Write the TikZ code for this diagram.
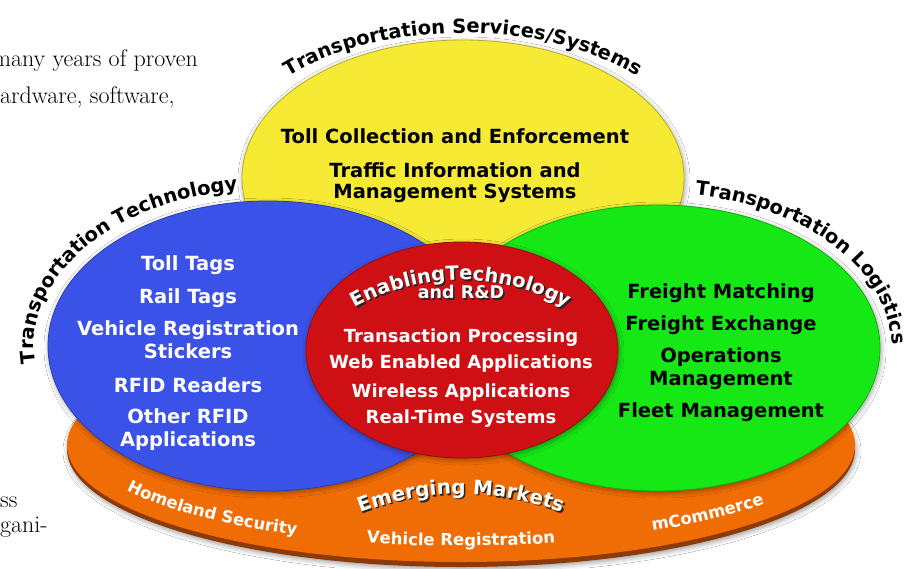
\documentclass[tikz,border=0pt]{standalone}
\usepackage{fontspec}
\setsansfont{DejaVu Sans}
\usetikzlibrary{decorations.text,shadows.blur}
\definecolor{tsYellow}{RGB}{246,234,52}
\definecolor{ttBlue}{RGB}{58,82,232}
\definecolor{tlGreen}{RGB}{22,232,22}
\definecolor{etRed}{RGB}{206,16,20}
\definecolor{emOrange}{RGB}{240,108,4}
\definecolor{emRim}{RGB}{140,58,8}
\begin{document}
\begin{tikzpicture}[x=1pt,y=-1pt,
    set/.style={draw=#1!75!black,fill=#1,line width=0.8pt,
      blur shadow={shadow xshift=1pt,shadow yshift=-2pt,shadow blur radius=5pt,shadow opacity=40}},
    item/.style={anchor=base,inner sep=0pt,font=\sffamily\bfseries\fontsize{19.5}{19.5}\selectfont},
    itemred/.style={item,text=white,font=\sffamily\bfseries\fontsize{18}{18}\selectfont},
    page/.style={inner sep=0pt,font=\fontsize{24}{24}\selectfont},
    arclabel/.style n args={3}{decorate,decoration={text along path,text align=center,
      text={|\sffamily\bfseries\fontsize{#1}{#1}\selectfont\color{#2}|#3}}}]
  \useasboundingbox (0,0) rectangle (913,568);
  \fill[white] (0,0) rectangle (913,568);

  % page text cut by the figure
  \node[page,anchor=base east] (pageA) at (198,66) {many years of proven};
  \node[page,anchor=base west] (pageB) at (0,103) {ardware, software,};
  \node[page,anchor=base west] (pageC) at (0,507) {ss};
  \node[page,anchor=base west] (pageD) at (0,532) {gani-};

  % emerging markets disc
  \fill[emRim,blur shadow={shadow xshift=1pt,shadow yshift=-2pt,shadow blur radius=5pt,shadow opacity=40}]
    (461,449) ellipse [x radius=394, y radius=118];
  \fill[emOrange] (461,445) ellipse [x radius=394, y radius=117];

  % the four sets
  \path[set=tsYellow] (463,178) ellipse [x radius=221, y radius=138];
  \path[set=ttBlue] (268,346) ellipse [x radius=220, y radius=145];
  \path[set=tlGreen] (658,348) ellipse [x radius=222, y radius=143];
  \path[set=etRed] (462,350) ellipse [x radius=156, y radius=108];

  % set titles
  \path[arclabel={19.5}{black}{Transportation Services/Systems}]
    ([shift={(212:245 and 145)}]463,178) arc [start angle=212, end angle=328, x radius=245, y radius=145];
  \path[arclabel={19.5}{black}{Transportation Technology}]
    ([shift={(163:234 and 157)}]268,346) arc [start angle=163, end angle=270, x radius=234, y radius=157];
  \path[arclabel={19.5}{black}{Transportation Logistics}]
    ([shift={(275:234 and 155)}]658,348) arc [start angle=275, end angle=365, x radius=234, y radius=155];
  \path[arclabel={19.5}{black!85}{EnablingTechnology}]
    ([shift={(232:217)}]462.5,498.5) arc [start angle=232, end angle=308, radius=217];
  \path[arclabel={19.5}{white}{EnablingTechnology}]
    ([shift={(232:217)}]461,497) arc [start angle=232, end angle=308, radius=217];
  \node[item,black!85,font=\sffamily\bfseries\fontsize{17.5}{17.5}\selectfont] (andRDshade) at (462.5,300) {and R\&D};
  \node[item,white,font=\sffamily\bfseries\fontsize{17.5}{17.5}\selectfont] (andRD) at (461,298.5) {and R\&D};

  % transportation services/systems
  \node[item] (tollColl) at (455,143) {Toll Collection and Enforcement};
  \node[item] (trafInfo) at (455,177) {Traffic Information and};
  \node[item] (mgmtSys) at (455,198.5) {Management Systems};

  % transportation technology
  \begin{scope}[every node/.style={item,text=white}]
    \node (tollTags) at (188,270) {Toll Tags};
    \node (railTags) at (188,303) {Rail Tags};
    \node (vehReg) at (188,335) {Vehicle Registration};
    \node (stickers) at (188,358) {Stickers};
    \node (rfidRead) at (188,392) {RFID Readers};
    \node (otherRfid) at (188,423) {Other RFID};
    \node (rfidApps) at (188,446.5) {Applications};
  \end{scope}

  % enabling technology
  \node[itemred] (transProc) at (461,342) {Transaction Processing};
  \node[itemred] (webApps) at (461,368) {Web Enabled Applications};
  \node[itemred] (wirelessApps) at (461,397) {Wireless Applications};
  \node[itemred] (realTime) at (461,423) {Real-Time Systems};

  % transportation logistics
  \node[item] (frMatch) at (721,298) {Freight Matching};
  \node[item] (frExch) at (721,330) {Freight Exchange};
  \node[item] (operations) at (721,362) {Operations};
  \node[item] (opsMgmt) at (721,385) {Management};
  \node[item] (fleetMgmt) at (721,417) {Fleet Management};

  % emerging markets
  \path[arclabel={20}{black!85}{Emerging Markets}]
    ([shift={(244:278)}]462.5,773.5) arc [start angle=244, end angle=296, radius=278];
  \path[arclabel={20}{white}{Emerging Markets}]
    ([shift={(244:278)}]461,772) arc [start angle=244, end angle=296, radius=278];
  \path[arclabel={16.5}{white}{Homeland Security}]
    ([shift={(159:375 and 100)}]461,445) arc [start angle=159, end angle=113, x radius=375, y radius=100];
  \path[arclabel={16.5}{white}{Vehicle Registration}]
    ([shift={(108:380 and 101)}]461,445) arc [start angle=108, end angle=72, x radius=380, y radius=101];
  \path[arclabel={16.5}{white}{mCommerce}]
    ([shift={(63.5:375 and 100)}]461,445) arc [start angle=63.5, end angle=29.5, x radius=375, y radius=100];
\end{tikzpicture}
\end{document}
